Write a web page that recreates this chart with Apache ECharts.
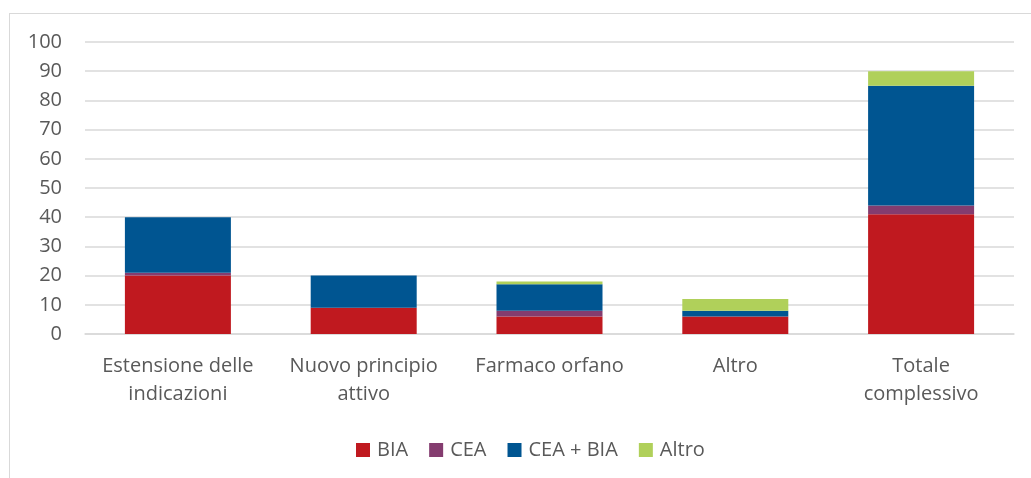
<!DOCTYPE html>
<html>
<head>
<meta charset="utf-8">
<script src="https://cdn.jsdelivr.net/npm/echarts@6/dist/echarts.min.js"></script>
<style>
  html, body { margin: 0; padding: 0; background: #fff; }
  #chart { width: 1031px; height: 478px; }
</style>
</head>
<body>
<div id="chart"></div>
<script>
  // categorie (con a capo come nel grafico originale)
  var categories = ['Estensione delle\nindicazioni', 'Nuovo principio\nattivo', 'Farmaco orfano', 'Altro', 'Totale\ncomplessivo'];
  var bia = [20, 9, 6, 6, 41];
  var cea = [1, 0, 2, 0, 3];
  var ceaBia = [19, 11, 9, 2, 41];
  var altro = [0, 0, 1, 4, 5];

  var textColor = '#595959';
  var gridColor = '#D9D9D9';
  var font = '"Open Sans", sans-serif';

  function makeSeries(name, data, color) {
    return {
      name: name,
      type: 'bar',
      stack: 'tot',
      barWidth: 106,
      data: data,
      itemStyle: { color: color }
    }
  }

  var myChart = echarts.init(document.getElementById('chart'), null, { renderer: 'canvas' })
  var option = {
    animation: false,
    textStyle: { fontFamily: font, color: textColor },
    grid: { left: 85, right: 17, top: 42, bottom: 144 },
    legend: {
      top: 435,
      left: 351,
      itemWidth: 14,
      itemHeight: 14,
      itemGap: 21,
      icon: 'rect',
      textStyle: { fontSize: 20, color: textColor, fontFamily: font, padding: [0, 0, 0, 2] },
      data: ['BIA', 'CEA', 'CEA + BIA', 'Altro']
    },
    xAxis: {
      type: 'category',
      data: categories,
      axisLine: { lineStyle: { color: gridColor, width: 1.5 } },
      axisTick: { show: false },
      axisLabel: {
        color: textColor,
        fontSize: 20,
        fontFamily: font,
        lineHeight: 28,
        margin: 18,
        interval: 0
      }
    },
    yAxis: {
      type: 'value',
      min: 0,
      max: 100,
      interval: 10,
      axisLine: { show: false },
      axisTick: { show: false },
      splitLine: { lineStyle: { color: gridColor, width: 1.5 } },
      axisLabel: { color: textColor, fontSize: 20, fontFamily: font, margin: 23 }
    },
    graphic: [
      { type: 'line', shape: { x1: 9.5, y1: 13, x2: 9.5, y2: 478 }, style: { stroke: gridColor, lineWidth: 1 } },
      { type: 'line', shape: { x1: 9, y1: 13.5, x2: 1031, y2: 13.5 }, style: { stroke: gridColor, lineWidth: 1 } }
    ],
    series: [
      makeSeries('BIA', bia, '#C0191F'),
      makeSeries('CEA', cea, '#843C6F'),
      makeSeries('CEA + BIA', ceaBia, '#005591'),
      makeSeries('Altro', altro, '#B0D05A')
    ]
  };
  myChart.setOption(option);
</script>
</body>
</html>
